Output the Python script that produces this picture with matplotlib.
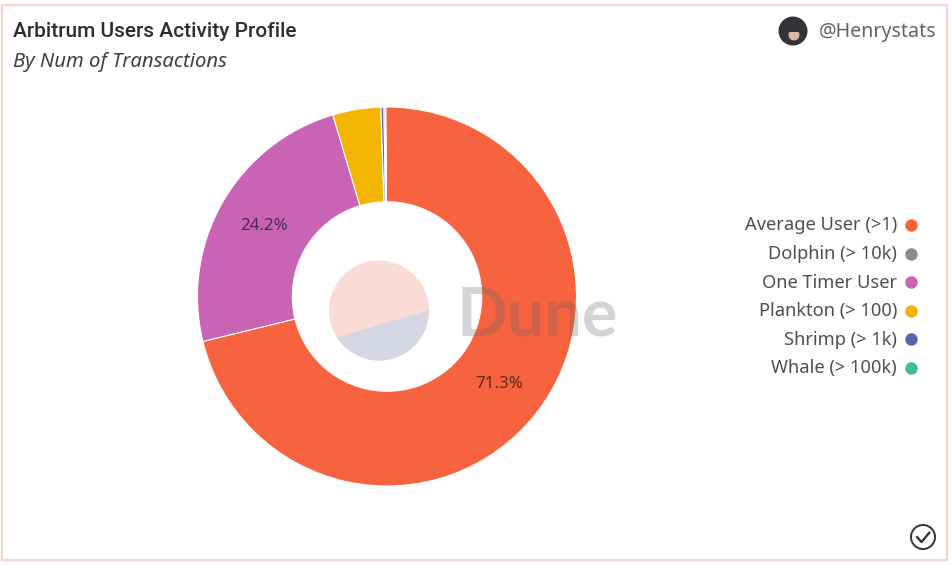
import matplotlib
matplotlib.use("Agg")
import matplotlib.pyplot as plt
from matplotlib.patches import Circle, Polygon, Rectangle

W, H = 953, 565

# pie data, clockwise from 12 o'clock
slice_names = ["Average User (>1)", "One Timer User", "Plankton (> 100)",
               "Shrimp (> 1k)", "Dolphin (> 10k)", "Whale (> 100k)"]
slice_values = [71.3, 24.2, 4.1, 0.25, 0.12, 0.03]
slice_colors = ["#f8633f", "#c963b4", "#f3b600", "#5a64b4", "#8c8c8c", "#3fbf98"]

# legend is alphabetical
legend_names = ["Average User (>1)", "Dolphin (> 10k)", "One Timer User",
                "Plankton (> 100)", "Shrimp (> 1k)", "Whale (> 100k)"]

plt.rcParams["font.family"] = ["Noto Sans", "DejaVu Sans"]

fig = plt.figure(figsize=(W / 100, H / 100), dpi=100, facecolor="white")


def pixel_axes(cx, cy, r):
    # square axes centred on a spot given in image pixels
    a = fig.add_axes([(cx - r) / W, 1 - (cy + r) / H, 2 * r / W, 2 * r / H])
    a.set_xlim(-1, 1)
    a.set_ylim(-1, 1)
    a.axis("off")
    return a


# main donut
ax = pixel_axes(387, 296.5, 189.5)
wedges, _, pct = ax.pie(
    slice_values,
    colors=slice_colors,
    startangle=90.4,
    counterclock=False,
    radius=1,
    autopct=lambda p: f"{p:.1f}%" if p > 5 else "",
    pctdistance=0.75,
    wedgeprops={"width": 0.5, "edgecolor": "white", "linewidth": 0.8},
    textprops={"fontsize": 12.2, "color": "#5a2a20"},
)
pct[1].set_color("#4a2a50")
ax.set_xlim(-1, 1)
ax.set_ylim(-1, 1)

# page level overlay in image pixels
ov = fig.add_axes([0, 0, 1, 1], facecolor="none")
ov.set_xlim(0, W)
ov.set_ylim(H, 0)
ov.axis("off")

ov.add_patch(Rectangle((2, 5), 945, 555, fill=False, edgecolor="#f8d2cd", linewidth=1.6))

ov.text(13, 31.5, "Arbitrum Users Activity Profile", fontsize=15, fontweight="medium",
        family="Roboto", color="#2a2e33", va="center")
ov.text(13, 62, "By Num of Transactions", fontsize=14.6, style="italic",
        family="Noto Sans", color="#3d4145", va="center")

ov.text(937, 32, "@Henrystats", fontsize=14.2, color="#62666b", ha="right", va="center")

# avatar
ov.add_patch(Circle((793, 31), 14.5, facecolor="#33323a", edgecolor="none"))
ov.add_patch(Circle((794, 35), 5.5, facecolor="#d9b9a8", edgecolor="none"))
ov.add_patch(Rectangle((787, 24), 13, 7.5, facecolor="#33323a", edgecolor="none"))

# legend
for i, name in enumerate(legend_names):
    y = 225 + i * 28.6
    ov.text(897, y + 0.5, name, fontsize=13.2, color="#4c5055", ha="right", va="center")
    ov.plot(911, y, "o", ms=9, mec="none", color=slice_colors[slice_names.index(name)])

# check icon bottom right
ov.add_patch(Circle((923, 537), 12, fill=False, edgecolor="#333333", linewidth=1.4))
ov.plot([917, 921.5, 929.5], [537, 542, 532.5], color="#333333", lw=1.7,
        solid_capstyle="round", solid_joinstyle="round")

# Dune logo, a disc cut by a straight chord, sits over the donut
disc = Circle((379, 310.5), 50, facecolor="#fbdcd5", edgecolor="none")
ov.add_patch(disc)
low = Polygon([(338, 337), (429, 310), (440, 380), (320, 380)], closed=True,
              facecolor="#d6d7e4", edgecolor="none")
ov.add_patch(low)
low.set_clip_path(disc)

ov.text(457, 335, "Dune", fontsize=48, fontweight="bold", family="Lato",
        color="#60606c", alpha=0.27, ha="left", va="baseline")

fig.savefig("out.png", dpi=100)
